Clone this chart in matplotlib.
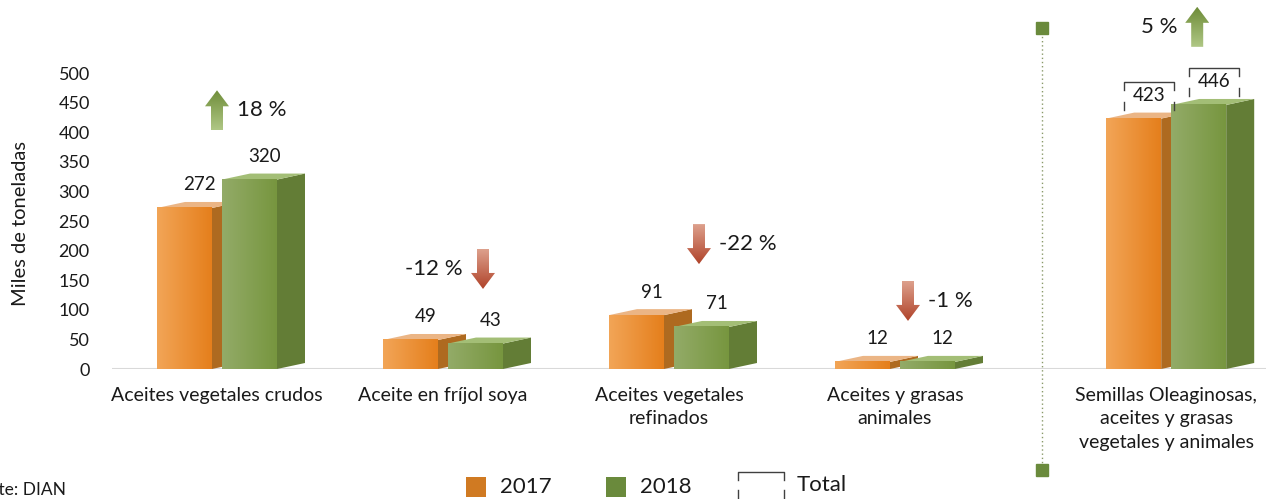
import numpy as np
import matplotlib.pyplot as plt
from matplotlib.patches import Polygon, Rectangle
from matplotlib.lines import Line2D

plt.rcParams["font.family"] = ["Lato", "DejaVu Sans"]

# data
categories = ["Aceites vegetales crudos", "Aceite en fríjol soya",
              "Aceites vegetales\nrefinados", "Aceites y grasas\nanimales",
              "Semillas Oleaginosas,\naceites y grasas\nvegetales y animales"]
v2017 = [272, 49, 91, 12, 423]
v2018 = [320, 43, 71, 12, 446]
changes = [18, -12, -22, -1, 5]
years = ["2017", "2018"]

# layout (pixels of a 1266x499 canvas)
W, H = 1266, 499
AX_L, AX_B = 112, 369          # axes left / baseline
XPX = 226.0                    # px per category step
YPX = 0.592                    # px per y unit
xpos = np.array([0, 1, 2, 3, 4.2])
sep_x = 3.65
# arrow offsets (px) relative to group centre, arrow centre y (data), text side
arrow_dx = [0, 40, 30, 13, 31]
arrow_y = [437, 169, 211, 115, 578]
text_side = ["right", "left", "right", "right", "left"]

ORANGE = dict(left="#F2A557", right="#E57F1C", side="#AE6A20", top="#EBB585")
GREEN = dict(left="#93AB68", right="#77963F", side="#637D36", top="#A3BE76")

fig = plt.figure(figsize=(W / 100, H / 100), dpi=100)
x0 = -(217 - AX_L) / XPX
x1 = x0 + (W - AX_L) / XPX
y1 = AX_B / YPX
ax = fig.add_axes([AX_L / W, (H - AX_B) / H, (W - AX_L) / W, AX_B / H])

bw = 55 / XPX
gap = 10 / XPX
ddx = 28 / XPX
ddy = 6 / YPX


def hgrad(c1, c2, n=64):
    a = np.array(plt.matplotlib.colors.to_rgb(c1))
    b = np.array(plt.matplotlib.colors.to_rgb(c2))
    t = np.linspace(0, 1, n)[None, :, None]
    return a + (b - a) * t


def vgrad(c1, c2, n=64):
    return hgrad(c1, c2, n).transpose(1, 0, 2)


def bar3d(xl, h, col, z):
    side = Polygon([(xl + bw, 0), (xl + bw + ddx, ddy), (xl + bw + ddx, h + ddy), (xl + bw, h)],
                   closed=True, facecolor=col["side"], edgecolor="none", zorder=z)
    top = Polygon([(xl, h), (xl + bw, h), (xl + bw + ddx, h + ddy), (xl + ddx, h + ddy)],
                  closed=True, facecolor=col["top"], edgecolor="none", zorder=z)
    ax.add_patch(side)
    ax.add_patch(top)
    ax.imshow(hgrad(col["left"], col["right"]), extent=(xl, xl + bw, 0, h),
              aspect="auto", interpolation="bilinear", zorder=z + 0.5)


for i, x in enumerate(xpos):
    bar3d(x - gap / 2 - bw, v2017[i], ORANGE, 2 + i * 0.01)
    bar3d(x + gap / 2, v2018[i], GREEN, 3 + i * 0.01)

# value labels
lab_dx = 15 / XPX
lab_dy = 23 / YPX
for i, x in enumerate(xpos):
    for xl, v in [(x - gap / 2 - bw, v2017[i]), (x + gap / 2, v2018[i])]:
        cx, cy = xl + bw / 2 + lab_dx, v + lab_dy
        ax.text(cx, cy, str(v), ha="center", va="center", fontsize=13.5, color="#1a1a1a", zorder=6)
        if i == len(xpos) - 1:
            bx, by = 25 / XPX, 14 / YPX
            tk = 8 / YPX
            kw = dict(color="#404040", lw=1, zorder=6, clip_on=False)
            ax.plot([cx - bx, cx - bx, cx + bx, cx + bx], [cy + by - tk, cy + by, cy + by, cy + by - tk], **kw)
            ax.plot([cx - bx, cx - bx], [cy - by, cy - by + tk], **kw)
            ax.plot([cx + bx, cx + bx], [cy - by, cy - by + tk], **kw)


# change arrows
def arrow(cx, cy, up):
    hw, sw = 12 / XPX, 6 / XPX
    hh, hl = 20 / YPX, 16 / YPX
    s = 1 if up else -1
    tip = cy + s * hh
    neck = tip - s * hl
    tail = cy - s * hh
    pts = [(cx, tip), (cx + hw, neck), (cx + sw, neck), (cx + sw, tail),
           (cx - sw, tail), (cx - sw, neck), (cx - hw, neck)]
    poly = Polygon(pts, closed=True, facecolor="none", edgecolor="none")
    ax.add_patch(poly)
    if up:
        g = vgrad("#6E8C38", "#AFC785")
    else:
        g = vgrad("#DDA08C", "#B0432A")
    im = ax.imshow(g, extent=(cx - hw, cx + hw, cy - hh, cy + hh), origin="upper",
                   aspect="auto", interpolation="bilinear", zorder=7)
    im.set_clip_path(poly)


for i, x in enumerate(xpos):
    cx = x + arrow_dx[i] / XPX
    cy = arrow_y[i]
    arrow(cx, cy, changes[i] > 0)
    off = 20 / XPX
    if text_side[i] == "right":
        ax.text(cx + off, cy, f"{changes[i]} %", ha="left", va="center", fontsize=16, color="#1a1a1a")
    else:
        ax.text(cx - off, cy, f"{changes[i]} %", ha="right", va="center", fontsize=16, color="#1a1a1a")

# separator
ys = [(AX_B - 28) / YPX, (AX_B - 470) / YPX]
ax.plot([sep_x, sep_x], ys, color="#8A9A6A", lw=1, ls=(0, (1, 2)), clip_on=False, zorder=1)
ax.plot([sep_x, sep_x], ys, ls="none", marker="s", ms=9, color="#6A8A3C", clip_on=False, zorder=1)

ax.axhline(0, color="#D9D9D9", lw=1.5, zorder=1)
ax.set_xlim(x0, x1)
ax.set_ylim(0, y1)
ax.set_yticks(np.arange(0, 501, 50))
ax.tick_params(axis="y", length=0, pad=16, labelsize=13, labelcolor="#1a1a1a")
ax.set_xticks(xpos)
ax.set_xticklabels(categories, fontsize=14, color="#1a1a1a", linespacing=1.45, va="top")
ax.tick_params(axis="x", length=0, pad=13)
for s in ax.spines.values():
    s.set_visible(False)
ax.set_ylabel("Miles de toneladas", fontsize=14.5, color="#1a1a1a")
ax.yaxis.set_label_coords(-(AX_L - 29) / (W - AX_L), (AX_B - 224) / AX_B)


# legend (figure pixels)
def fx(p):
    return p / W


def fy(p):
    return 1 - p / H


fig.add_artist(Rectangle((fx(466), fy(497)), fx(20), 20 / H, transform=fig.transFigure,
                         facecolor="#D07A22", edgecolor="none"))
fig.text(fx(500), fy(487), years[0], fontsize=16, va="center", ha="left", color="#1a1a1a")
fig.add_artist(Rectangle((fx(606), fy(497)), fx(20), 20 / H, transform=fig.transFigure,
                         facecolor="#6A8A3C", edgecolor="none"))
fig.text(fx(640), fy(487), years[1], fontsize=16, va="center", ha="left", color="#1a1a1a")
for xs, yv in [([738, 738, 784, 784], [480, 472, 472, 480]), ([738, 738], [490, 499]), ([784, 784], [490, 499])]:
    fig.add_artist(Line2D([fx(v) for v in xs], [fy(v) for v in yv], transform=fig.transFigure,
                          color="#404040", lw=1))
fig.text(fx(797), fy(485), "Total", fontsize=16, va="center", ha="left", color="#1a1a1a")
fig.text(fx(66), fy(490), "Fuente: DIAN", fontsize=12.5, va="center", ha="right", color="#1a1a1a")

fig.savefig("out.png", dpi=100)
